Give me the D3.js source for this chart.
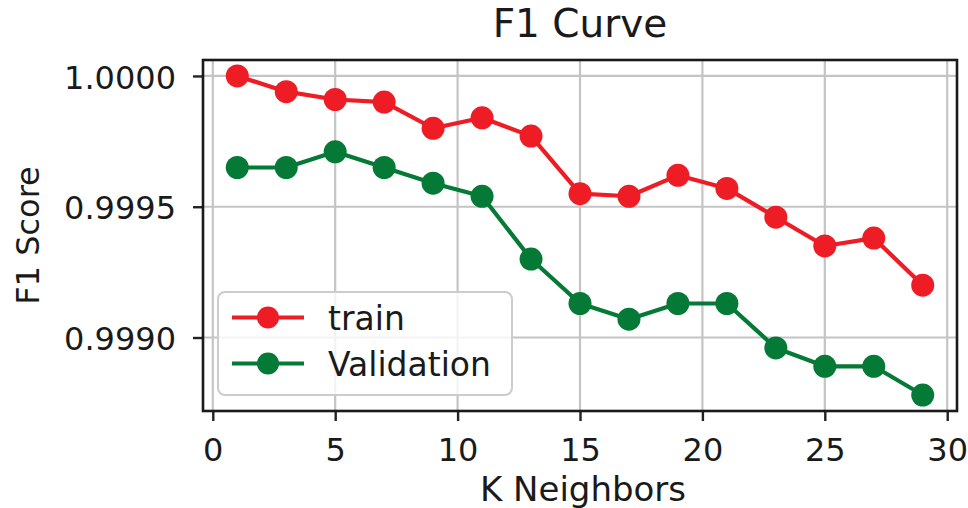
<!DOCTYPE html>
<html>
<head>
<meta charset="utf-8">
<script src="https://cdn.jsdelivr.net/npm/d3@7"></script>
<style>
  html,body{margin:0;padding:0;background:#fff;}
  svg{display:block;font-family:"DejaVu Sans",sans-serif;}
</style>
</head>
<body>
<svg id="chart" width="968" height="508"></svg>
<script>
// data
const kNeighbors=[1,3,5,7,9,11,13,15,17,19,21,23,25,27,29];
const trainF1=[1.00000,0.99994,0.99991,0.99990,0.99980,0.99984,0.99977,0.99955,0.99954,0.99962,0.99957,0.99946,0.99935,0.99938,0.99920];
const validF1=[0.99965,0.99965,0.99971,0.99965,0.99959,0.99954,0.99930,0.99913,0.99907,0.99913,0.99913,0.99896,0.99889,0.99889,0.99878];
const xTicks=[0,5,10,15,20,25,30];
const yTicks=[0.9990,0.9995,1.0000];
const seriesNames=["train","Validation"];

const colors={train:"#ee1c25",Validation:"#047a36"};
const series=[
  {name:seriesNames[0],values:trainF1},
  {name:seriesNames[1],values:validF1}
];

const svg=d3.select("#chart");
const m={top:60,right:11,bottom:97,left:203};
const W=968,H=508;

// matplotlib-style 5% margins
const allY=trainF1.concat(validF1);
const yMin=d3.min(allY),yMax=d3.max(allY);
const yPad=(yMax-yMin)*0.05;
const xMin=d3.min(kNeighbors),xMax=d3.max(kNeighbors);
const xPad=(xMax-xMin)*0.05;

const x=d3.scaleLinear().domain([xMin-xPad,xMax+xPad]).range([m.left,W-m.right]);
const y=d3.scaleLinear().domain([yMin-yPad,yMax+yPad]).range([H-m.bottom,m.top]);

// grid
svg.append("g").selectAll("line").data(xTicks).enter().append("line")
  .attr("x1",d=>x(d)).attr("x2",d=>x(d))
  .attr("y1",m.top).attr("y2",H-m.bottom)
  .attr("stroke","#c4c4c4").attr("stroke-width",2.2);
svg.append("g").selectAll("line").data(yTicks).enter().append("line")
  .attr("x1",m.left).attr("x2",W-m.right)
  .attr("y1",d=>y(d)).attr("y2",d=>y(d))
  .attr("stroke","#c4c4c4").attr("stroke-width",2.2);

// lines + markers
const line=d3.line().x((d,i)=>x(kNeighbors[i])).y(d=>y(d));
series.forEach(s=>{
  svg.append("path").datum(s.values)
    .attr("d",line).attr("fill","none")
    .attr("stroke",colors[s.name]).attr("stroke-width",4.2)
    .attr("stroke-linejoin","round");
  svg.append("g").selectAll("circle").data(s.values).enter().append("circle")
    .attr("cx",(d,i)=>x(kNeighbors[i])).attr("cy",d=>y(d))
    .attr("r",11.5).attr("fill",colors[s.name]);
});

// axes
const xAxis=svg.append("g").attr("transform",`translate(0,${H-m.bottom})`)
  .call(d3.axisBottom(x).tickValues(xTicks).tickSize(10).tickPadding(8).tickFormat(d3.format("d")));
const yAxis=svg.append("g").attr("transform",`translate(${m.left},0)`)
  .call(d3.axisLeft(y).tickValues(yTicks).tickSize(10).tickPadding(17).tickFormat(d3.format(".4f")));
[xAxis,yAxis].forEach(a=>{
  a.select(".domain").remove();
  a.selectAll(".tick line").attr("stroke","#222").attr("stroke-width",2.4);
  a.selectAll(".tick text").attr("fill","#1a1a1a").attr("font-size","32px")
    .attr("font-family","DejaVu Sans");
});
xAxis.selectAll(".tick text").attr("dy","1.0em");
yAxis.selectAll(".tick text").attr("dy","0.38em");

// frame
svg.append("rect")
  .attr("x",m.left).attr("y",m.top)
  .attr("width",W-m.right-m.left).attr("height",H-m.bottom-m.top)
  .attr("fill","none").attr("stroke","#1a1a1a").attr("stroke-width",2.6);

// legend
const lg=svg.append("g").attr("transform","translate(218,292)");
lg.append("rect").attr("width",294).attr("height",103).attr("rx",7)
  .attr("fill","#fff").attr("fill-opacity",0.8)
  .attr("stroke","#cccccc").attr("stroke-width",2);
series.forEach((s,i)=>{
  const gy=25.5+i*46;
  lg.append("line").attr("x1",14).attr("x2",86).attr("y1",gy).attr("y2",gy)
    .attr("stroke",colors[s.name]).attr("stroke-width",4.2);
  lg.append("circle").attr("cx",50).attr("cy",gy).attr("r",11).attr("fill",colors[s.name]);
  lg.append("text").attr("x",110).attr("y",gy+12).attr("font-size","33px")
    .attr("fill","#1a1a1a").text(s.name);
});

// titles
svg.append("text").attr("x",(m.left+W-m.right)/2).attr("y",37)
  .attr("text-anchor","middle").attr("font-size","39px").attr("fill","#1a1a1a")
  .text("F1 Curve");
svg.append("text").attr("x",(m.left+W-m.right)/2+3).attr("y",501)
  .attr("text-anchor","middle").attr("font-size","34px").attr("fill","#1a1a1a")
  .text("K Neighbors");
svg.append("text")
  .attr("transform",`translate(39,${(m.top+H-m.bottom)/2}) rotate(-90)`)
  .attr("text-anchor","middle").attr("font-size","32px").attr("fill","#1a1a1a")
  .text("F1 Score");
</script>
</body>
</html>
